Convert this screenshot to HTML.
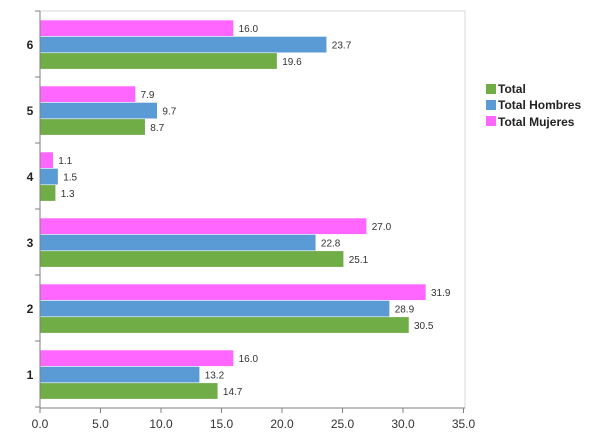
<!DOCTYPE html>
<html><head><meta charset="utf-8"><style>body{margin:0;background:#fff}svg{display:block}text{font-family:"Liberation Sans",sans-serif}</style></head><body>
<svg width="612" height="445" viewBox="0 0 612 445">
<rect x="40" y="11" width="425" height="397" fill="none" stroke="#d9d9d9" stroke-width="1"/>
<g stroke="#fff" stroke-width="0.6">
<rect x="40" y="20" width="193.6" height="16.4" fill="#ff66ff"/>
<rect x="40" y="36.4" width="286.77" height="16.4" fill="#5b9bd5"/>
<rect x="40" y="52.8" width="237.16" height="16.4" fill="#70ad47"/>
<rect x="40" y="86" width="95.59" height="16.4" fill="#ff66ff"/>
<rect x="40" y="102.4" width="117.37" height="16.4" fill="#5b9bd5"/>
<rect x="40" y="118.8" width="105.27" height="16.4" fill="#70ad47"/>
<rect x="40" y="152" width="13.31" height="16.4" fill="#ff66ff"/>
<rect x="40" y="168.4" width="18.15" height="16.4" fill="#5b9bd5"/>
<rect x="40" y="184.8" width="15.73" height="16.4" fill="#70ad47"/>
<rect x="40" y="218" width="326.7" height="16.4" fill="#ff66ff"/>
<rect x="40" y="234.4" width="275.88" height="16.4" fill="#5b9bd5"/>
<rect x="40" y="250.8" width="303.71" height="16.4" fill="#70ad47"/>
<rect x="40" y="284" width="385.99" height="16.4" fill="#ff66ff"/>
<rect x="40" y="300.4" width="349.69" height="16.4" fill="#5b9bd5"/>
<rect x="40" y="316.8" width="369.05" height="16.4" fill="#70ad47"/>
<rect x="40" y="350" width="193.6" height="16.4" fill="#ff66ff"/>
<rect x="40" y="366.4" width="159.72" height="16.4" fill="#5b9bd5"/>
<rect x="40" y="382.8" width="177.87" height="16.4" fill="#70ad47"/>
</g>
<g font-size="10" fill="#333">
<text x="238.6" y="32">16.0</text><text x="331.8" y="48.4">23.7</text><text x="282.2" y="64.8">19.6</text>
<text x="140.6" y="98">7.9</text><text x="162.4" y="114.4">9.7</text><text x="150.3" y="130.8">8.7</text>
<text x="58.3" y="164">1.1</text><text x="63.2" y="180.4">1.5</text><text x="60.7" y="196.8">1.3</text>
<text x="371.7" y="230">27.0</text><text x="320.9" y="246.4">22.8</text><text x="348.7" y="262.8">25.1</text>
<text x="431" y="296">31.9</text><text x="394.7" y="312.4">28.9</text><text x="414" y="328.8">30.5</text>
<text x="238.6" y="362">16.0</text><text x="204.7" y="378.4">13.2</text><text x="222.9" y="394.8">14.7</text>
</g>
<line x1="40" y1="11" x2="40" y2="408" stroke="#808080"/>
<line x1="40" y1="408" x2="465" y2="408" stroke="#808080"/>
<g stroke="#808080">
<line x1="35" y1="11" x2="40" y2="11"/><line x1="35" y1="77" x2="40" y2="77"/><line x1="35" y1="143" x2="40" y2="143"/><line x1="35" y1="209" x2="40" y2="209"/><line x1="35" y1="275" x2="40" y2="275"/><line x1="35" y1="341" x2="40" y2="341"/><line x1="35" y1="407" x2="40" y2="407"/>
<line x1="40" y1="408" x2="40" y2="413"/><line x1="100.5" y1="408" x2="100.5" y2="413"/><line x1="161" y1="408" x2="161" y2="413"/><line x1="221.5" y1="408" x2="221.5" y2="413"/><line x1="282" y1="408" x2="282" y2="413"/><line x1="342.5" y1="408" x2="342.5" y2="413"/><line x1="403" y1="408" x2="403" y2="413"/><line x1="463.5" y1="408" x2="463.5" y2="413"/>
</g>
<g font-size="12" font-weight="bold" fill="#222" text-anchor="middle">
<text x="30" y="49">6</text><text x="30" y="115">5</text><text x="30" y="181">4</text><text x="30" y="247">3</text><text x="30" y="313">2</text><text x="30" y="379">1</text>
</g>
<g font-size="12" fill="#333" text-anchor="middle">
<text x="40" y="428">0.0</text><text x="100.5" y="428">5.0</text><text x="161" y="428">10.0</text><text x="221.5" y="428">15.0</text><text x="282" y="428">20.0</text><text x="342.5" y="428">25.0</text><text x="403" y="428">30.0</text><text x="463.5" y="428">35.0</text>
</g>
<g font-size="12" font-weight="bold" fill="#222">
<rect x="486" y="84" width="10" height="10" fill="#70ad47"/><text x="498" y="93">Total</text>
<rect x="486" y="100" width="10" height="10" fill="#5b9bd5"/><text x="498" y="109">Total Hombres</text>
<rect x="486" y="116" width="10" height="10" fill="#ff66ff"/><text x="498" y="126">Total Mujeres</text>
</g>
</svg></body></html>
